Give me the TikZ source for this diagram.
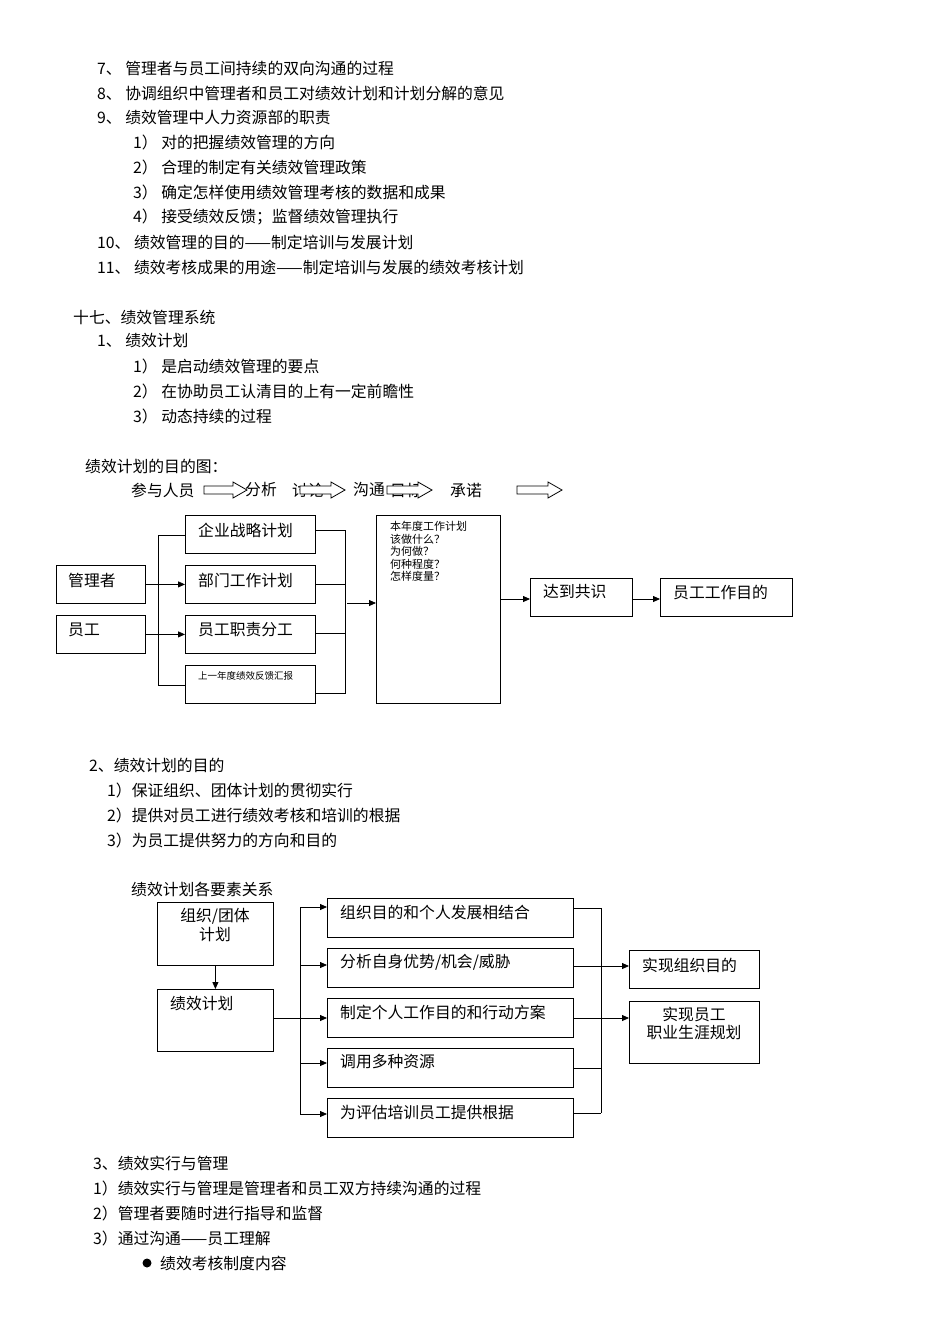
\documentclass[tikz,border=0pt]{standalone}
\usepackage{fontspec}
\setmainfont{Noto Sans CJK SC}
\usetikzlibrary{arrows.meta}
\begin{document}
\begin{tikzpicture}[x=1pt,y=-1pt,
  t/.style={anchor=west,inner sep=0,font=\fontsize{15.8}{17}\selectfont},
  bx/.style={draw,line width=0.8pt,minimum height=38pt,inner sep=0},
  ln/.style={line width=0.8pt},
  ar/.style={line width=0.8pt,-{Triangle[length=7pt,width=6pt]}}]
\useasboundingbox[fill=white] (0,0) rectangle (950,1344);
% text block 1
\node[t] (l1) at (97,68) {7、 管理者与员工间持续的双向沟通的过程};
\node[t] (l2) at (97,93) {8、 协调组织中管理者和员工对绩效计划和计划分解的意见};
\node[t] (l3) at (97,117) {9、 绩效管理中人力资源部的职责};
\node[t] (l4) at (133,142) {1） 对的把握绩效管理的方向};
\node[t] (l5) at (133,167) {2） 合理的制定有关绩效管理政策};
\node[t] (l6) at (133,192) {3） 确定怎样使用绩效管理考核的数据和成果};
\node[t] (l7) at (133,217) {4） 接受绩效反馈；监督绩效管理执行};
\node[t] (l8) at (97,242) {10、 绩效管理的目的——制定培训与发展计划};
\node[t] (l9) at (97,267) {11、 绩效考核成果的用途——制定培训与发展的绩效考核计划};
\node[t] (m1) at (73,317) {十七、绩效管理系统};
\node[t] (m2) at (97,341) {1、 绩效计划};
\node[t] (m3) at (133,366) {1） 是启动绩效管理的要点};
\node[t] (m4) at (133,391) {2） 在协助员工认清目的上有一定前瞻性};
\node[t] (m5) at (133,416) {3） 动态持续的过程};
\node[t] (m6) at (85,466) {绩效计划的目的图：};
% arrows row
\node[t] (r1) at (131,490) {参与人员};
\node[t] (r2) at (245,490) {分析};
\node[t] (r3) at (292,490) {讨论};
\node[t] (r4) at (353,490) {沟通};
\node[t] (r5) at (390,490) {目标};
\node[t] (r6) at (450,490) {承诺};
\foreach \a/\b in {204/247,300/345,387/432,517/562}{
  \draw[ln,fill=white] (\a,486) -- (\b-14,486) -- (\b-14,482) -- (\b,490) -- (\b-14,498) -- (\b-14,494) -- (\a,494) -- cycle;}
% diagram 1
\node[bx,minimum width=89pt,anchor=north west,align=left] (mg) at (56,565) {};
\node[t] at (68,580) {管理者};
\node[bx,minimum width=89pt,anchor=north west] (yg) at (56,615) {};
\node[t] at (68,630) {员工};
\node[bx,minimum width=130pt,anchor=north west] (b1) at (185,515) {};
\node[t] at (198,530) {企业战略计划};
\node[bx,minimum width=130pt,anchor=north west] (b2) at (185,565) {};
\node[t] at (198,580) {部门工作计划};
\node[bx,minimum width=130pt,anchor=north west] (b3) at (185,615) {};
\node[t] at (198,630) {员工职责分工};
\node[bx,minimum width=130pt,anchor=north west] (b4) at (185,665) {};
\node[anchor=west,inner sep=0,font=\fontsize{9.5}{10}\selectfont] at (198,676) {上一年度绩效反馈汇报};
\draw[ln] (b1.west|-0,535) -- (158,535) -- (158,685) -- (b4.west|-0,685);
\draw[ar] (mg.east) -- (b2.west);
\draw[ar] (yg.east) -- (b3.west);
\draw[ln] (b1.east|-0,530) -- (345,530) -- (345,693) -- (b4.east|-0,693);
\draw[ln] (b2.east|-0,584) -- (345,584);
\draw[ln] (b3.east|-0,633) -- (345,633);
\node[draw,line width=0.8pt,minimum width=124pt,minimum height=188pt,anchor=north west] (big) at (376,515) {};
\node[anchor=north west,inner sep=0,align=left,font=\fontsize{11}{12.5}\selectfont] at (390,521) {本年度工作计划\\该做什么？\\为何做？\\何种程度？\\怎样度量？};
\coordinate (bj) at (347,603);
\draw[ar] (bj) -- (big.west|-bj);
\node[bx,minimum width=102pt,anchor=north west] (gs) at (530,578) {};
\node[t] at (543,592) {达到共识};
\node[bx,minimum width=132pt,anchor=north west] (mdd) at (660,578) {};
\node[t] at (673,592) {员工工作目的};
\draw[ar] (big.east|-0,599) -- (gs.west|-0,599);
\draw[ar] (gs.east|-0,599) -- (mdd.west|-0,599);
% text block 2
\node[t] (n1) at (89,765) {2、绩效计划的目的};
\node[t] (n2) at (107,790) {1）保证组织、团体计划的贯彻实行};
\node[t] (n3) at (107,815) {2）提供对员工进行绩效考核和培训的根据};
\node[t] (n4) at (107,840) {3）为员工提供努力的方向和目的};
\node[t] (n5) at (131,889) {绩效计划各要素关系};
% diagram 2
\node[draw,line width=0.8pt,minimum width=116pt,minimum height=63pt,anchor=north west] (zz) at (157,902) {};
\node[anchor=north,inner sep=0,align=center,font=\fontsize{15.8}{19}\selectfont] at (215,908) {组织/团体\\计划};
\node[draw,line width=0.8pt,minimum width=116pt,minimum height=62pt,anchor=north west] (jx) at (157,989) {};
\node[t] at (170,1003) {绩效计划};
\draw[ar] (zz.south) -- (jx.north);
\foreach \i/\y/\s in {1/898/{组织目的和个人发展相结合},2/948/{分析自身优势/机会/威胁},3/998/{制定个人工作目的和行动方案},4/1048/{调用多种资源},5/1098/{为评估培训员工提供根据}}{
  \node[bx,minimum width=246pt,minimum height=39pt,anchor=north west] (c\i) at (327,\y) {};
  \node[t] at (340,\y+14) {\s};}
\draw[ln] (jx.east|-0,1018) -- (300,1018);
\draw[ln] (300,907) -- (300,1114);
\foreach \i/\y in {1/907,2/965,3/1018,4/1063,5/1114}{\draw[ar] (300,\y) -- (c\i.west|-0,\y);}
\foreach \i/\y in {1/908,2/966,3/1018,4/1068,5/1113}{\draw[ln] (c\i.east|-0,\y) -- (601,\y);}
\draw[ln] (601,908) -- (601,1113);
\node[bx,minimum width=130pt,anchor=north west] (s1) at (629,950) {};
\node[t] at (642,965) {实现组织目的};
\node[draw,line width=0.8pt,minimum width=130pt,minimum height=62pt,anchor=north west] (s2) at (629,1001) {};
\node[anchor=north,inner sep=0,align=center,font=\fontsize{15.8}{18}\selectfont] at (694,1007) {实现员工\\职业生涯规划};
\draw[ar] (c2.east|-0,966) -- (s1.west|-0,966);
\draw[ar] (c3.east|-0,1018) -- (s2.west|-0,1018);
% text block 3
\node[t] (p1) at (93,1163) {3、绩效实行与管理};
\node[t] (p2) at (93,1188) {1）绩效实行与管理是管理者和员工双方持续沟通的过程};
\node[t] (p3) at (93,1213) {2）管理者要随时进行指导和监督};
\node[t] (p4) at (93,1238) {3）通过沟通——员工理解};
\fill (147,1263) circle (4.5pt);
\node[t] (p5) at (160,1263) {绩效考核制度内容};
\end{tikzpicture}
\end{document}
